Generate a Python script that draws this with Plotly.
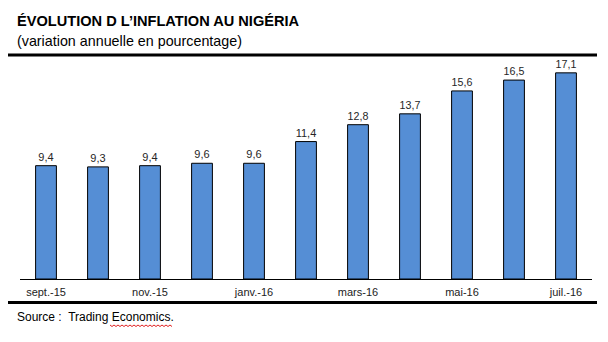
import plotly.graph_objects as go

months = ["sept.-15", "oct.-15", "nov.-15", "déc.-15", "janv.-16", "févr.-16",
          "mars-16", "avr.-16", "mai-16", "juin-16", "juil.-16"]
inflation = [9.4, 9.3, 9.4, 9.6, 9.6, 11.4, 12.8, 13.7, 15.6, 16.5, 17.1]
tick_labels = ["sept.-15", "nov.-15", "janv.-16", "mars-16", "mai-16", "juil.-16"]

W, H = 608, 342
FONT = "Liberation Sans, Arial, sans-serif"

fig = go.Figure(go.Bar(
    x=months, y=inflation,
    marker=dict(color="#558ED5", line=dict(color="black", width=1)),
    width=0.4,
    texttemplate="%{y:.1f}", textposition="outside",
    textfont=dict(family=FONT, size=11, color="#262626"),
    cliponaxis=False,
))

fig.update_layout(
    width=W, height=H,
    margin=dict(l=20, r=16, t=62, b=63),
    paper_bgcolor="white", plot_bgcolor="white",
    separators=",.",
    showlegend=False,
    bargap=0.6,
    xaxis=dict(
        tickmode="array", tickvals=tick_labels, ticktext=tick_labels,
        tickfont=dict(family=FONT, size=11, color="#222"),
        showline=True, linecolor="black", linewidth=1,
        ticks="", showgrid=False, ticklabelstandoff=3,
    ),
    yaxis=dict(range=[0, 18], visible=False, showgrid=False),
    font=dict(family=FONT),
)


def px_x(px):
    return (px - 20) / 572


def px_y(py):
    return (279 - py) / 217


fig.add_annotation(text="<b>ÉVOLUTION D L’INFLATION AU NIGÉRIA</b>",
                   xref="paper", yref="paper", x=px_x(15), y=px_y(21),
                   xanchor="left", yanchor="middle", showarrow=False,
                   font=dict(family=FONT, size=14.6, color="black"))
fig.add_annotation(text="(variation annuelle en pourcentage)",
                   xref="paper", yref="paper", x=px_x(15), y=px_y(41),
                   xanchor="left", yanchor="middle", showarrow=False,
                   font=dict(family=FONT, size=14.3, color="black"))
fig.add_annotation(text="Source :  Trading Economics.",
                   xref="paper", yref="paper", x=px_x(15), y=px_y(317),
                   xanchor="left", yanchor="middle", showarrow=False,
                   font=dict(family=FONT, size=12, color="black"))

# decorative rules
fig.add_shape(type="line", xref="paper", yref="paper",
              x0=px_x(8), x1=px_x(597), y0=px_y(55), y1=px_y(55),
              line=dict(color="black", width=3))
fig.add_shape(type="line", xref="paper", yref="paper",
              x0=px_x(8), x1=px_x(597), y0=px_y(302.5), y1=px_y(302.5),
              line=dict(color="black", width=3))

# spell-check squiggle under "Economics"
pts = []
x = 110.0
i = 0
while x <= 172:
    pts.append((px_x(x), px_y(325 if i % 2 == 0 else 326.5)))
    x += 2
    i += 1
path = "M " + " L ".join(f"{a},{b}" for a, b in pts)
fig.add_shape(type="path", xref="paper", yref="paper", path=path,
              line=dict(color="#E02020", width=1))

fig.write_html("out.html")
